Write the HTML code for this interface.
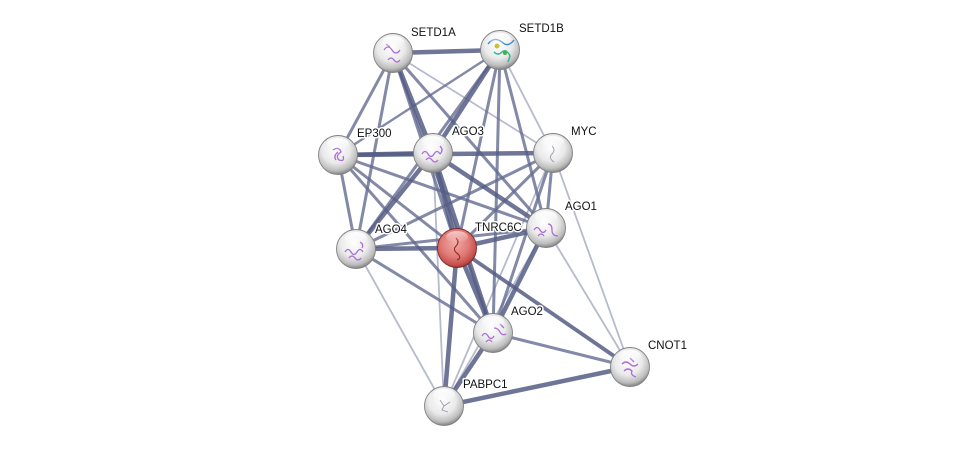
<!DOCTYPE html>
<html><head><meta charset="utf-8"><style>
html,body{margin:0;padding:0;background:#fff;width:976px;height:451px;overflow:hidden}
svg{display:block}
text{font-family:"Liberation Sans",sans-serif;font-size:11.5px;fill:#111;paint-order:stroke;stroke:#fff;stroke-width:3px;stroke-linejoin:round}
.s{stroke:#555d85;stroke-width:4.5;stroke-opacity:.85}
.m{stroke:#646c90;stroke-width:3;stroke-opacity:.8}
.w{stroke:#a9aec4;stroke-width:1.8;stroke-opacity:.85}
.p{fill:none;stroke:#a96fd6;stroke-width:1.3}
</style></head><body>
<svg width="976" height="451" viewBox="0 0 976 451" xmlns="http://www.w3.org/2000/svg">
<defs>
<radialGradient id="g" cx="45%" cy="35%" r="65%">
<stop offset="0" stop-color="#ffffff"/><stop offset="0.55" stop-color="#eaeaea"/><stop offset="0.85" stop-color="#bdbdbd"/><stop offset="1" stop-color="#858585"/>
</radialGradient>
<radialGradient id="r" cx="45%" cy="38%" r="65%">
<stop offset="0" stop-color="#f2a9a6"/><stop offset="0.55" stop-color="#e07a76"/><stop offset="0.85" stop-color="#c4504c"/><stop offset="1" stop-color="#8e2e2c"/>
</radialGradient>
<linearGradient id="h" x1="0" y1="0" x2="0" y2="1">
<stop offset="0" stop-color="#fff" stop-opacity=".95"/><stop offset="1" stop-color="#fff" stop-opacity="0"/>
</linearGradient>
</defs>
<g fill="none" stroke-linecap="round">
<!-- weak -->
<line class="w" x1="393" y1="53" x2="553" y2="153"/>
<line class="w" x1="500" y1="50" x2="553" y2="153"/>
<line class="w" x1="433" y1="153" x2="444" y2="406"/>
<line class="w" x1="553" y1="153" x2="630" y2="367"/>
<line class="w" x1="553" y1="153" x2="444" y2="406"/>
<line class="w" x1="546" y1="228" x2="444" y2="406"/>
<line class="w" x1="546" y1="228" x2="630" y2="367"/>
<line class="w" x1="356" y1="249" x2="444" y2="406"/>
<!-- medium -->
<line class="m" x1="393" y1="53" x2="338" y2="155"/>
<line class="m" x1="393" y1="53" x2="457" y2="248"/>
<line class="m" x1="393" y1="53" x2="356" y2="249"/>
<line class="m" x1="393" y1="53" x2="546" y2="228"/>
<line class="m" x1="393" y1="53" x2="493" y2="333"/>
<line class="m" x1="500" y1="50" x2="338" y2="155" style="stroke-width:2.4"/>
<line class="m" x1="500" y1="50" x2="356" y2="249"/>
<line class="m" x1="500" y1="50" x2="457" y2="248"/>
<line class="m" x1="500" y1="50" x2="546" y2="228"/>
<line class="m" x1="500" y1="50" x2="493" y2="333"/>
<line class="m" x1="338" y1="155" x2="356" y2="249"/>
<line class="m" x1="338" y1="155" x2="457" y2="248"/>
<line class="m" x1="338" y1="155" x2="546" y2="228"/>
<line class="m" x1="338" y1="155" x2="493" y2="333"/>
<line class="m" x1="553" y1="153" x2="546" y2="228"/>
<line class="m" x1="553" y1="153" x2="356" y2="249"/>
<line class="m" x1="553" y1="153" x2="493" y2="333"/>
<line class="m" x1="553" y1="153" x2="457" y2="248"/>
<line class="m" x1="546" y1="228" x2="356" y2="249"/>
<line class="m" x1="356" y1="249" x2="493" y2="333"/>
<line class="m" x1="493" y1="333" x2="630" y2="367"/>
<!-- strong -->
<line class="s" x1="457" y1="248" x2="630" y2="367" style="stroke-width:3.8"/>
<line class="s" x1="393" y1="53" x2="500" y2="50"/>
<line class="s" x1="393" y1="53" x2="433" y2="153"/>
<line class="s" x1="500" y1="50" x2="433" y2="153"/>
<line class="s" x1="338" y1="155" x2="433" y2="153"/>
<line class="s" x1="338" y1="155" x2="553" y2="153"/>
<line class="s" x1="433" y1="153" x2="457" y2="248"/>
<line class="s" x1="433" y1="153" x2="546" y2="228"/>
<line class="s" x1="433" y1="153" x2="493" y2="333"/>
<line class="s" x1="433" y1="153" x2="356" y2="249"/>
<line class="s" x1="546" y1="228" x2="457" y2="248"/>
<line class="s" x1="546" y1="228" x2="493" y2="333"/>
<line class="s" x1="457" y1="248" x2="356" y2="249"/>
<line class="s" x1="457" y1="248" x2="493" y2="333"/>
<line class="s" x1="457" y1="248" x2="444" y2="406"/>
<line class="s" x1="493" y1="333" x2="444" y2="406"/>
<line class="s" x1="444" y1="406" x2="630" y2="367"/>
</g>
<!-- nodes -->
<g stroke="#808080" stroke-width="0.9">
<circle cx="393" cy="53" r="19.5" fill="url(#g)"/>
<circle cx="500" cy="50" r="19.5" fill="url(#g)"/>
<circle cx="338" cy="155" r="19.5" fill="url(#g)"/>
<circle cx="433" cy="153" r="19.5" fill="url(#g)"/>
<circle cx="553" cy="153" r="19.5" fill="url(#g)"/>
<circle cx="546" cy="228" r="19.5" fill="url(#g)"/>
<circle cx="457" cy="248" r="19.5" fill="url(#r)" stroke="#7a2a28"/>
<circle cx="356" cy="249" r="19.5" fill="url(#g)"/>
<circle cx="493" cy="333" r="19.5" fill="url(#g)"/>
<circle cx="630" cy="367" r="19.5" fill="url(#g)"/>
<circle cx="444" cy="406" r="19.5" fill="url(#g)"/>
</g>
<!-- structure doodles -->
<g>
<path class="p" d="M384 50 q4 -6 8 0 q4 6 8 0 M388 60 q3 -4 6 0 q3 4 6 0 M386 44 l4 3"/>
<path d="M488 44 q6 -8 14 -2 q6 6 12 -2" fill="none" stroke="#3a8ad0" stroke-width="1.4"/>
<path d="M494 52 q4 4 8 0 q4 -4 8 4 l-2 6" fill="none" stroke="#2bb59a" stroke-width="1.4"/>
<circle cx="497" cy="46" r="2.5" fill="#c8c040"/><circle cx="505" cy="53" r="2" fill="#4ab040"/>
<path class="p" d="M333 150 q6 -4 8 2 q-6 4 -2 8 q6 2 4 -4 M336 160 q-3 -4 2 -8"/>
<path class="p" d="M422 154 q3 -5 6 0 q3 5 6 0 q3 -5 6 0 M426 160 q3 -4 6 0 q3 4 6 0 M440 146 q4 4 0 8"/>
<path d="M552 146 q4 4 0 8 q-4 4 2 8" fill="none" stroke="#9a9aa8" stroke-width="0.9"/>
<path class="p" d="M534 230 q3 -5 6 0 q3 5 6 0 M538 236 q3 -4 6 0 M548 224 q4 0 4 6 q0 6 6 6"/>
<path d="M456 238 q4 4 0 8 q-4 4 2 8 q4 4 -1 6" fill="none" stroke="#8e2a20" stroke-width="1.1"/>
<path class="p" d="M345 252 q3 -5 6 0 q3 5 6 0 q3 -5 6 0 M349 258 q3 -4 6 0 q3 4 6 0 M360 242 q4 2 2 6"/>
<path class="p" d="M482 336 q3 -5 6 0 q3 5 6 0 M486 342 q3 -4 6 0 M494 328 q4 0 6 4 q2 4 6 2 M500 324 l4 4"/>
<path class="p" d="M622 364 q4 -4 8 0 q4 4 8 0 M624 371 q4 -4 8 0 q-2 4 4 6 M630 358 l4 4"/>
<path d="M440 400 l4 6 l-2 4 l6 2 M444 406 l6 -4" fill="none" stroke="#9a9aa8" stroke-width="0.9"/>
</g>
<!-- highlights -->
<g fill="url(#h)">
<ellipse cx="393" cy="42" rx="11" ry="6"/>
<ellipse cx="500" cy="39" rx="11" ry="6"/>
<ellipse cx="338" cy="144" rx="11" ry="6"/>
<ellipse cx="433" cy="142" rx="11" ry="6"/>
<ellipse cx="553" cy="142" rx="11" ry="6"/>
<ellipse cx="546" cy="217" rx="11" ry="6"/>
<ellipse cx="457" cy="237" rx="11" ry="6" opacity=".6"/>
<ellipse cx="356" cy="238" rx="11" ry="6"/>
<ellipse cx="493" cy="322" rx="11" ry="6"/>
<ellipse cx="630" cy="356" rx="11" ry="6"/>
<ellipse cx="444" cy="395" rx="11" ry="6"/>
</g>
<!-- labels -->
<text x="411" y="36">SETD1A</text>
<text x="519" y="32">SETD1B</text>
<text x="357" y="137">EP300</text>
<text x="452" y="135">AGO3</text>
<text x="571" y="135">MYC</text>
<text x="565" y="210">AGO1</text>
<text x="475" y="231">TNRC6C</text>
<text x="375" y="233">AGO4</text>
<text x="511" y="315">AGO2</text>
<text x="648" y="349">CNOT1</text>
<text x="463" y="388">PABPC1</text>
</svg>
</body></html>
